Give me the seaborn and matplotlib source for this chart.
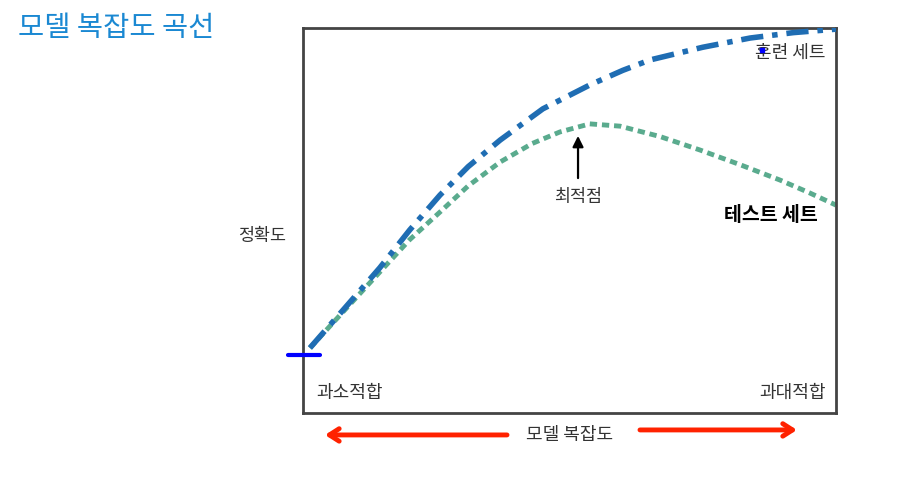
import numpy as np
import pandas as pd
import matplotlib.pyplot as plt
import seaborn as sns

sns.set_style("white")
plt.rcParams['font.family'] = ['Noto Sans CJK KR', 'DejaVu Sans']

# model complexity (0 = simple, 1 = complex) and accuracy (0..1)
complexity = [0.013, 0.08, 0.144, 0.20, 0.257, 0.31, 0.370, 0.45, 0.538, 0.60, 0.651, 0.75, 0.839, 0.92, 1.0]
train_acc = [0.169, 0.275, 0.377, 0.475, 0.566, 0.640, 0.709, 0.790, 0.852, 0.890, 0.917, 0.950, 0.974, 0.988, 0.997]

test_x = [0.013, 0.08, 0.144, 0.20, 0.257, 0.31, 0.370, 0.43, 0.482, 0.538, 0.595, 0.67, 0.745, 0.82, 0.895, 0.95, 1.0]
test_acc = [0.169, 0.270, 0.366, 0.450, 0.522, 0.590, 0.652, 0.700, 0.730, 0.751, 0.745, 0.718, 0.683, 0.645, 0.605, 0.572, 0.540]

train_df = pd.DataFrame({"복잡도": complexity, "정확도": train_acc})
test_df = pd.DataFrame({"복잡도": test_x, "정확도": test_acc})

fig = plt.figure(figsize=(9.21, 4.79), dpi=100)
ax = fig.add_axes([303 / 921, 1 - 413 / 479, 533 / 921, 385 / 479])

sns.lineplot(data=train_df, x="복잡도", y="정확도", ax=ax, color="#1f6db3",
             linewidth=4, linestyle=(0, (4, 1.6, 1, 1.6)), zorder=3)
sns.lineplot(data=test_df, x="복잡도", y="정확도", ax=ax, color="#5aab8e",
             linewidth=3.5, linestyle=(0, (1.5, 1.0)), zorder=2)

ax.set_xlim(0, 1)
ax.set_ylim(0, 1)
ax.set_xticks([])
ax.set_yticks([])
ax.set_xlabel("")
ax.set_ylabel("")
for sp in ax.spines.values():
    sp.set_color("#444444")
    sp.set_linewidth(2)

txt = "#333333"
ax.text(0.98, 0.935, "훈련 세트", ha="right", va="center", fontsize=13, color=txt)
ax.plot([0.862], [0.942], marker="s", markersize=3, color="#0000ff", zorder=5)
ax.text(0.516, 0.56, "최적점", ha="center", va="center", fontsize=12.5, color=txt)
ax.annotate("", xy=(0.516, 0.727), xytext=(0.516, 0.603),
            arrowprops=dict(arrowstyle="-|>", color="black", lw=1.6, mutation_scale=16))
ax.text(0.965, 0.512, "테스트 세트", ha="right", va="center", fontsize=14,
        fontweight="bold", color="black")
ax.text(0.025, 0.052, "과소적합", ha="left", va="center", fontsize=13, color=txt)
ax.text(0.98, 0.052, "과대적합", ha="right", va="center", fontsize=13, color=txt)
ax.text(-0.077, 0.46, "정확도", ha="center", va="center", fontsize=12.5, color=txt)

# blue mark at the start of the curves
ax.plot([-0.028, 0.032], [0.151, 0.151], color="#0000ff", lw=3, clip_on=False,
        solid_capstyle="round", zorder=4)

# model complexity arrows under the axes
ax.text(0.501, -0.057, "모델 복잡도", ha="center", va="center", fontsize=13,
        color=txt, clip_on=False)
ax.annotate("", xy=(0.036, -0.057), xytext=(0.388, -0.057), annotation_clip=False,
            arrowprops=dict(arrowstyle="->,head_length=0.7,head_width=0.45",
                            color="#ff2200", lw=3.5, capstyle="round"))
ax.annotate("", xy=(0.932, -0.044), xytext=(0.627, -0.044), annotation_clip=False,
            arrowprops=dict(arrowstyle="->,head_length=0.7,head_width=0.45",
                            color="#ff2200", lw=3.5, capstyle="round"))

fig.text(18 / 921, 1 - 28 / 479, "모델 복잡도 곡선", ha="left", va="center",
         fontsize=20.5, color="#1a88d2")

fig.savefig("out.png", dpi=100)
